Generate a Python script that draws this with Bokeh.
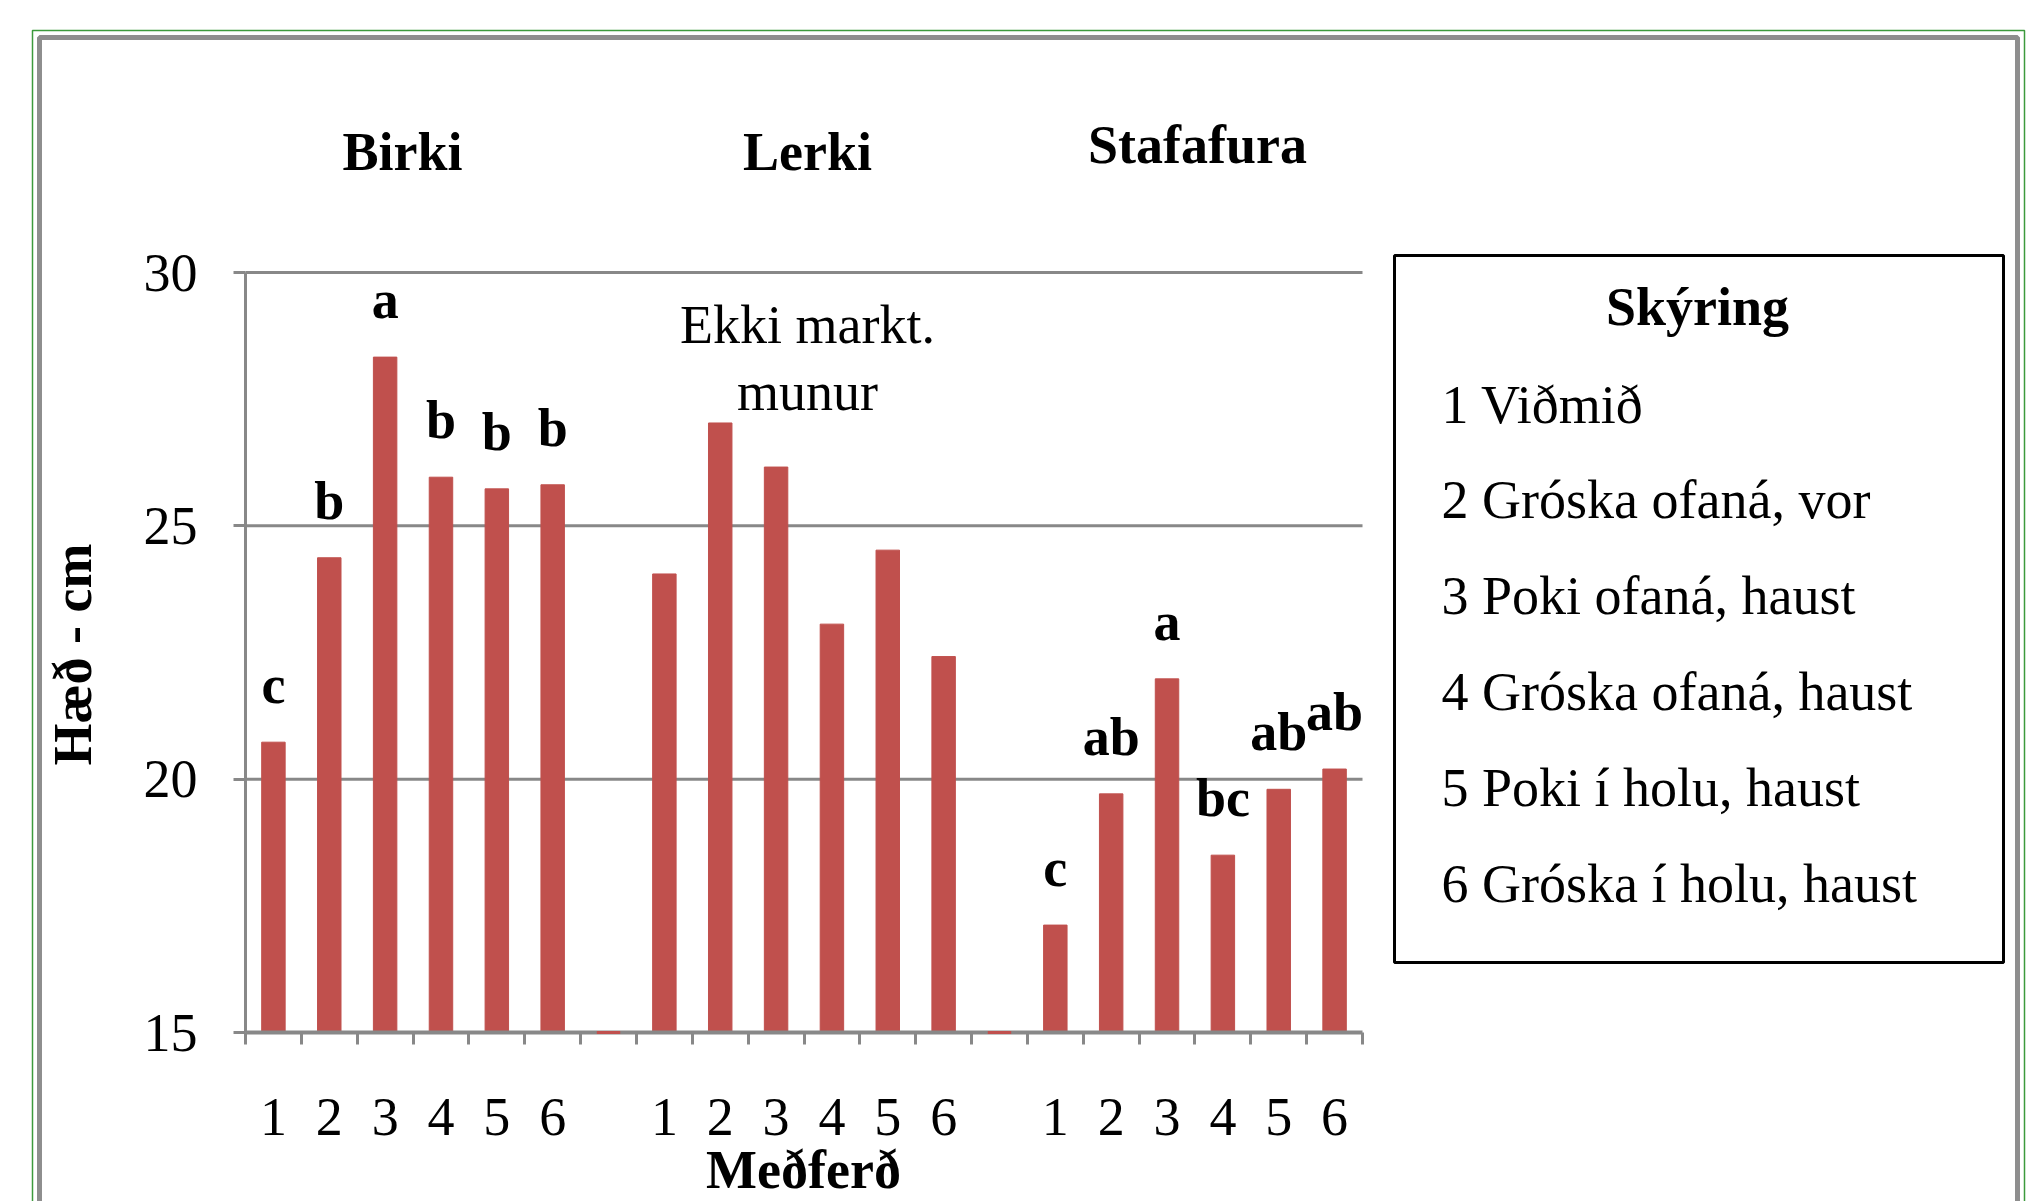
import math
from bokeh.plotting import figure
from bokeh.models import Range1d, LinearAxis, FixedTicker, ColumnDataSource
from bokeh.core.properties import value
from bokeh.embed import file_html
from bokeh.resources import INLINE

# ---------------- data ----------------
groups = ["Birki", "Lerki", "Stafafura"]
treatments = ["1", "2", "3", "4", "5", "6"]
birki = [20.73, 24.37, 28.33, 25.96, 25.73, 25.81]
lerki = [24.05, 27.03, 26.16, 23.06, 24.52, 22.42]
stafafura = [17.12, 19.71, 21.98, 18.50, 19.80, 20.20]
birki_letters = ["c", "b", "a", "b", "b", "b"]
lerki_letters = ["", "", "", "", "", ""]
stafafura_letters = ["c", "ab", "a", "bc", "ab", "ab"]
lerki_note = ["Ekki markt.", "munur"]
y_ticks = [15, 20, 25, 30]
legend_title = "Skýring"
legend_items = ["1 Viðmið", "2 Gróska ofaná, vor", "3 Poki ofaná, haust",
                "4 Gróska ofaná, haust", "5 Poki í holu, haust", "6 Gróska í holu, haust"]
x_title = "Meðferð"
y_title = "Hæð - cm"

# ---------------- layout (pixels) ----------------
W, H = 2040, 1201
X0_PX, X1_PX = 245, 1362      # pixel of first and last slot edge
Y_LO_PX, Y_HI_PX = 1032, 272  # pixel of y=15 and y=30
Y_LO, Y_HI = y_ticks[0], y_ticks[-1]
GROUP_STRIDE = len(treatments) + 1
N_SLOTS = GROUP_STRIDE * len(groups) - 1
BAR_W = 0.42
BASE_SHIFT = 19               # baseline correction for text glyphs (px)
TITLE_PX = [(402, 170), (807, 170), (1197, 163)]   # group title centre x / baseline

sx = (X1_PX - X0_PX) / N_SLOTS
sy = (Y_LO_PX - Y_HI_PX) / (Y_HI - Y_LO)


def X(px):
    return (px - X0_PX) / sx


def Y(py):
    return Y_LO + (Y_LO_PX - py) / sy


def YB(py):  # baseline at pixel py
    return Y(py - BASE_SHIFT)


BAR_COLOR = "#C0504D"
GRAY = "#888888"
FONT = value("Liberation Serif")
FS = "54px"

p = figure(width=W, height=H, output_backend="svg", toolbar_location=None,
           x_range=Range1d(X(0), X(W)), y_range=Range1d(Y(H), Y(0)),
           x_axis_location=None, y_axis_location=None, min_border=0)
p.outline_line_color = None
p.xgrid.visible = False
p.ygrid.visible = False
p.background_fill_color = "white"
p.border_fill_color = "white"

# ---------------- bars ----------------
series = [birki, lerki, stafafura]
letter_sets = [birki_letters, lerki_letters, stafafura_letters]
xs, tops, labs, tick_labels = [], [], [], {}
for g, (vals, lets) in enumerate(zip(series, letter_sets)):
    for t, (v, l) in enumerate(zip(vals, lets)):
        x = g * GROUP_STRIDE + t + 0.5
        xs.append(x)
        tops.append(v)
        labs.append(l)
        tick_labels[x] = treatments[t]

src = ColumnDataSource(dict(x=xs, top=tops, lab=labs))

# gridlines
for gy in y_ticks[1:]:
    p.segment(x0=0, x1=N_SLOTS, y0=gy, y1=gy, line_color=GRAY, line_width=3)

p.vbar(x="x", top="top", bottom=Y_LO, width=BAR_W, source=src,
       fill_color=BAR_COLOR, line_color=BAR_COLOR)

# empty gap slots (tiny red dash at the baseline)
gaps = [g * GROUP_STRIDE - 0.5 for g in range(1, len(groups))]
p.segment(x0=[g - BAR_W / 2 for g in gaps], x1=[g + BAR_W / 2 for g in gaps],
          y0=Y_LO, y1=Y_LO, line_color=BAR_COLOR, line_width=3, level="overlay")

# significance letters
p.text(x="x", y="top", text="lab", source=src, y_offset=-(38 + BASE_SHIFT),
       text_align="center", text_baseline="alphabetic",
       text_font=FONT, text_font_style="bold", text_font_size=FS, text_color="black")

# ---------------- axes ----------------
xaxis = LinearAxis(ticker=FixedTicker(ticks=xs, minor_ticks=list(range(N_SLOTS + 1))),
                   fixed_location=Y_LO, bounds=(0, N_SLOTS))
xaxis.major_label_overrides = tick_labels
xaxis.axis_line_color = GRAY
xaxis.axis_line_width = 4
xaxis.major_tick_out = 0
xaxis.major_tick_in = 0
xaxis.minor_tick_out = 12
xaxis.minor_tick_in = 0
xaxis.minor_tick_line_color = GRAY
xaxis.minor_tick_line_width = 3
xaxis.major_label_standoff = 54
xaxis.major_label_text_font = "Liberation Serif"
xaxis.major_label_text_font_size = FS
xaxis.major_label_text_color = "black"
p.add_layout(xaxis, "below")

yaxis = LinearAxis(ticker=FixedTicker(ticks=y_ticks), fixed_location=0, bounds=(Y_LO, Y_HI))
yaxis.axis_line_color = GRAY
yaxis.axis_line_width = 3
yaxis.major_tick_out = 12
yaxis.major_tick_in = 0
yaxis.major_tick_line_color = GRAY
yaxis.major_tick_line_width = 3
yaxis.minor_tick_out = 0
yaxis.minor_tick_in = 0
yaxis.major_label_standoff = 36
yaxis.major_label_text_font = "Liberation Serif"
yaxis.major_label_text_font_size = FS
yaxis.major_label_text_color = "black"
p.add_layout(yaxis, "left")

# ---------------- texts ----------------
p.text(x=[X(px) for px, _ in TITLE_PX], y=[YB(py) for _, py in TITLE_PX], text=groups,
       text_align="center", text_baseline="alphabetic",
       text_font=FONT, text_font_style="bold", text_font_size=FS, text_color="black")

p.text(x=[X(807)] * 2, y=[YB(343), YB(410)], text=lerki_note,
       text_align="center", text_baseline="alphabetic",
       text_font=FONT, text_font_size=FS, text_color="black")

p.text(x=[X(803)], y=[YB(1188)], text=[x_title], text_align="center",
       text_baseline="alphabetic", text_font=FONT, text_font_style="bold",
       text_font_size=FS, text_color="black")

p.text(x=[X(72)], y=[Y(654)], text=[y_title], angle=math.pi / 2,
       text_align="center", text_baseline="middle", text_font=FONT,
       text_font_style="bold", text_font_size=FS, text_color="black")

# ---------------- legend box ----------------
p.quad(left=X(1394), right=X(2003), top=Y(255), bottom=Y(962),
       fill_color="white", line_color="black", line_width=3)
p.text(x=[X(1697)], y=[YB(325)], text=[legend_title], text_align="center",
       text_baseline="alphabetic", text_font=FONT, text_font_style="bold",
       text_font_size=FS, text_color="black")
p.text(x=[X(1441)] * len(legend_items),
       y=[YB(423 + 95.8 * k) for k in range(len(legend_items))],
       text=legend_items, text_align="left", text_baseline="alphabetic",
       text_font=FONT, text_font_size=FS, text_color="black")

# ---------------- chart borders ----------------
p.line(x=[X(32), X(32), X(2024), X(2024)], y=[Y(H + 40), Y(30), Y(30), Y(H + 40)],
       line_color="#3C9A3C", line_width=1.5)
p.line(x=[X(39), X(39), X(2017), X(2017)], y=[Y(H + 40), Y(37), Y(37), Y(H + 40)],
       line_color="#8E8E8E", line_width=5)

open("out.html", "w").write(file_html(p, INLINE))
